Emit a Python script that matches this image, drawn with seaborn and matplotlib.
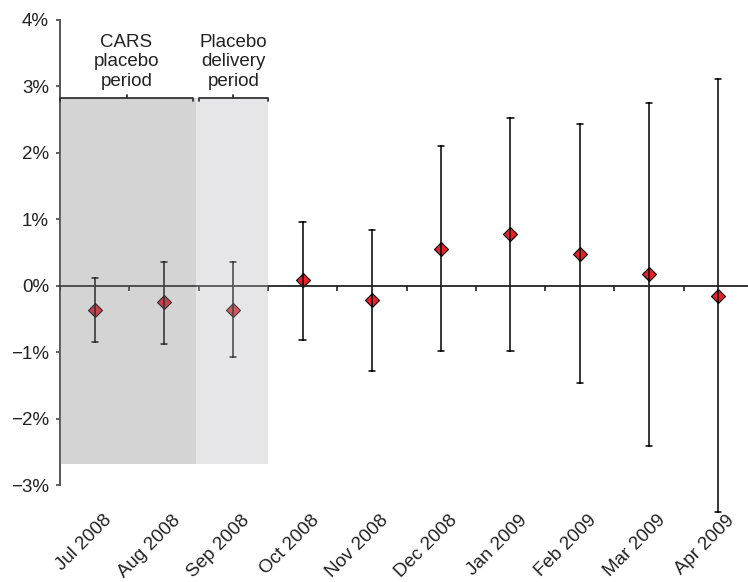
import numpy as np
import pandas as pd
import matplotlib.pyplot as plt
import matplotlib.transforms as mtransforms
from matplotlib.patches import Rectangle
from matplotlib.ticker import FuncFormatter
import seaborn as sns

# monthly estimates (%) with 95% CI
months = ["Jul 2008", "Aug 2008", "Sep 2008", "Oct 2008", "Nov 2008",
          "Dec 2008", "Jan 2009", "Feb 2009", "Mar 2009", "Apr 2009"]
estimate = [-0.37, -0.24, -0.36, 0.08, -0.22, 0.56, 0.78, 0.48, 0.18, -0.15]
ci_low = [-0.84, -0.87, -1.08, -0.81, -1.29, -0.99, -0.98, -1.47, -2.41, -3.40]
ci_high = [0.11, 0.36, 0.36, 0.96, 0.84, 2.10, 2.53, 2.44, 2.75, 3.11]
period_labels = ["CARS\nplacebo\nperiod", "Placebo\ndelivery\nperiod"]
y_ticks = [-3, -2, -1, 0, 1, 2, 3, 4]

# long table: low / estimate / high per month -> median = estimate, min/max = CI
df = pd.DataFrame({
    "month": np.repeat(months, 3),
    "value": np.column_stack([ci_low, estimate, ci_high]).ravel(),
})

sns.set_style("white")
plt.rcParams["font.family"] = ["Liberation Sans", "DejaVu Sans"]

fig = plt.figure(figsize=(7.48, 5.82), dpi=100)
ax = fig.add_axes([60 / 748, 97 / 582, 688 / 748, 465 / 582])

sns.pointplot(data=df, x="month", y="value", order=months,
              estimator="median", errorbar=lambda v: (v.min(), v.max()),
              markers="D", linestyles="none", color="#e8202a",
              markersize=7.5, markeredgecolor="black", markeredgewidth=0.8,
              capsize=0.09, err_kws={"color": "black", "linewidth": 1.1},
              ax=ax)
for ln in ax.lines:
    ln.set_clip_on(False)

ax.set_xlim(-0.5, -0.5 + 688 / 69.3)
ax.set_ylim(-3, 4)

# zero line with small ticks at category boundaries
ax.axhline(0, color="#222222", lw=1.3, zorder=3, clip_on=False)
bounds = np.arange(-0.5, len(months))
ax.plot(bounds, np.zeros_like(bounds), ls="none", marker=3, ms=3.5,
        mew=1.2, color="#222222", zorder=3)

# shaded periods drawn on top
ax.add_patch(Rectangle((-0.5, -2.68), 1.96, 2.83 + 2.68, facecolor="#848488",
                       alpha=0.35, lw=0, zorder=10))
ax.add_patch(Rectangle((1.46, -2.68), 1.04, 2.83 + 2.68, facecolor="#babac0",
                       alpha=0.35, lw=0, zorder=10))

# brackets and labels
for (x0, x1), lbl in zip([(-0.5, 1.42), (1.5, 2.5)], period_labels):
    ax.plot([x0, x0, x1, x1], [2.78, 2.83, 2.83, 2.78], color="#333333",
            lw=1.3, zorder=11, clip_on=False)
    xm = (x0 + x1) / 2
    ax.plot([xm, xm], [2.83, 2.87], color="#333333", lw=1.3, zorder=11,
            clip_on=False)
    ax.text(xm, 2.95, lbl, ha="center", va="bottom", fontsize=13.5,
            linespacing=1.2, color="#222222")

# axes styling
for s in ["top", "right", "bottom"]:
    ax.spines[s].set_visible(False)
ax.spines["left"].set_color("#555555")
ax.spines["left"].set_linewidth(1.4)
ax.set_yticks(y_ticks)
ax.yaxis.set_major_formatter(FuncFormatter(lambda v, p: f"{int(v)}%".replace("-", "\u2212")))
ax.tick_params(axis="y", left=True, length=3, width=1.2, color="#444444",
               pad=5, labelsize=13.5, labelcolor="#222222")
ax.tick_params(axis="x", bottom=False, length=0, pad=0, labelsize=13.5,
               labelcolor="#222222")
ax.set_xlabel("")
ax.set_ylabel("")

offset = mtransforms.ScaledTranslation(0.08, -0.27, fig.dpi_scale_trans)
for lbl in ax.get_xticklabels():
    lbl.set_rotation(45)
    lbl.set_ha("right")
    lbl.set_va("top")
    lbl.set_rotation_mode("anchor")
    lbl.set_transform(lbl.get_transform() + offset)

plt.savefig("out.png", dpi=100)
